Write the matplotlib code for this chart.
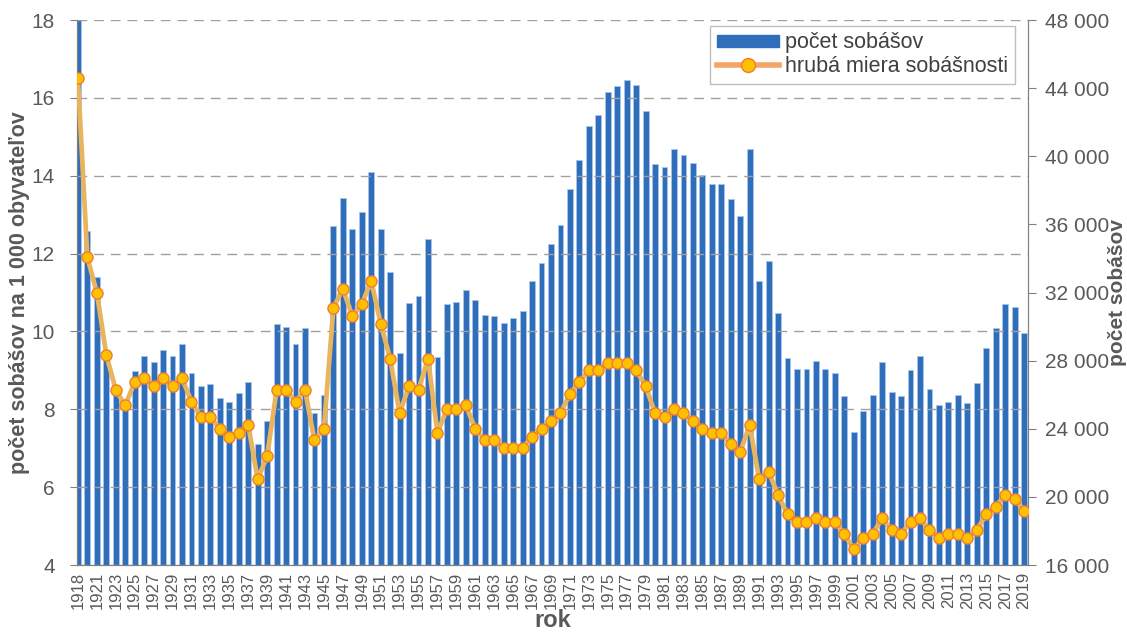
import numpy as np
import matplotlib.pyplot as plt
from matplotlib.lines import Line2D
from matplotlib.patches import Patch
from matplotlib.ticker import FuncFormatter

plt.rcParams['font.family'] = ['Liberation Sans', 'DejaVu Sans']

# 1919 is missing in the source series
years = [1918] + list(range(1920, 2020))

# number of marriages (right axis)
marriages = [
    48500, 35600, 32900, 28650, 26500, 25400, 27400, 28300, 27900, 28650,
    28300, 29000, 27300, 26500, 26600, 25800, 25550, 26100, 26750, 23100,
    24450, 30150, 30000, 29000, 29900, 24950, 26000, 35900, 37550, 35750,
    36700, 39050, 35700, 33200, 28450, 31400, 31800, 35150, 28200, 31300,
    31450, 32150, 31550, 30700, 30650, 30200, 30500, 30900, 32650, 33750,
    34850, 35950, 38100, 39800, 41800, 42400, 43800, 44150, 44450, 44200,
    42650, 39550, 39350, 40400, 40100, 39600, 38900, 38350, 38400, 37500,
    36500, 40450, 32700, 33850, 30800, 28150, 27500, 27500, 27950, 27500,
    27300, 25900, 23800, 25050, 26000, 27900, 26150, 25900, 27450, 28250,
    26350, 25400, 25600, 26000, 25500, 26700, 28750, 29900, 31300, 31150,
    29650,
]

# crude marriage rate per 1 000 inhabitants (left axis)
rate = [
    16.5, 11.9, 11.0, 9.4, 8.5, 8.1, 8.7, 8.8, 8.6, 8.8,
    8.6, 8.8, 8.2, 7.8, 7.8, 7.5, 7.3, 7.4, 7.6, 6.2,
    6.8, 8.5, 8.5, 8.2, 8.5, 7.2, 7.5, 10.6, 11.1, 10.4,
    10.7, 11.3, 10.2, 9.3, 7.9, 8.6, 8.5, 9.3, 7.4, 8.0,
    8.0, 8.1, 7.5, 7.2, 7.2, 7.0, 7.0, 7.0, 7.3, 7.5,
    7.7, 7.9, 8.4, 8.7, 9.0, 9.0, 9.2, 9.2, 9.2, 9.0,
    8.6, 7.9, 7.8, 8.0, 7.9, 7.7, 7.5, 7.4, 7.4, 7.1,
    6.9, 7.6, 6.2, 6.4, 5.8, 5.3, 5.1, 5.1, 5.2, 5.1,
    5.1, 4.8, 4.4, 4.7, 4.8, 5.2, 4.9, 4.8, 5.1, 5.2,
    4.9, 4.7, 4.8, 4.8, 4.7, 4.9, 5.3, 5.5, 5.8, 5.7,
    5.4,
]

bar_color = '#2F6EBA'
text_color = '#595959'
axis_color = '#808080'
tick_font = ['Liberation Sans Narrow', 'Liberation Sans', 'DejaVu Sans']

x = np.arange(len(years))

fig = plt.figure(figsize=(11.27, 6.35), dpi=100)
ax = fig.add_axes([0.0683, 0.1102, 0.8439, 0.8583])
ax2 = ax.twinx()

# bars on the right axis, drawn behind the line axis
ax2.bar(x, marriages, width=0.62, color=bar_color, edgecolor='#A9C5EA', linewidth=0.6, zorder=2)
ax.plot(x, rate, color='#E9B45E', lw=3.4, marker='o', ms=8, mfc='#FFC000', mec='#ED7D31', mew=1, zorder=3)
ax.set_zorder(ax2.get_zorder() + 1)
ax.patch.set_visible(False)

ax.set_xlim(-0.1, 100.42)
ax.set_ylim(4, 18)
ax2.set_ylim(16000, 48000)
ax.set_yticks(range(4, 19, 2))
ax2.set_yticks(range(16000, 48001, 4000))
ax2.yaxis.set_major_formatter(FuncFormatter(lambda v, p: f'{int(v):,}'.replace(',', ' ')))

ax.set_xticks(x[::2])
ax.set_xticklabels([str(y) for y in years[::2]], rotation=90)
ax.set_xticks(x[::6], minor=True)
ax.tick_params(axis='x', which='major', length=0, pad=5)
ax.tick_params(axis='x', which='minor', length=5, color=axis_color)

# grid: dashed horizontals over the bars, faint verticals behind them
ax.grid(axis='y', ls=(0, (7, 5)), color='#A0A0A0', lw=1)
ax2.set_axisbelow(True)
ax2.grid(axis='x', which='minor', color='#EBEBEB', lw=1)

for a in (ax, ax2):
    a.spines['top'].set_visible(False)
    for s in ('left', 'right', 'bottom'):
        a.spines[s].set_color(axis_color)
ax.tick_params(axis='y', length=5, pad=11, color=axis_color, labelcolor=text_color)
ax2.tick_params(axis='y', length=6, pad=6, color=axis_color, labelcolor=text_color)
ax.tick_params(axis='x', labelcolor=text_color)

for lbl in ax.get_yticklabels() + ax2.get_yticklabels():
    lbl.set_family(tick_font)
    lbl.set_fontsize(15)
for lbl in ax.get_xticklabels():
    lbl.set_family(tick_font)
    lbl.set_fontsize(12)

ax.set_ylabel('počet sobášov na 1 000 obyvateľov', fontsize=15.5, fontweight='bold', color=text_color, labelpad=1)
ax2.set_ylabel('počet sobášov', fontsize=15, fontweight='bold', color=text_color, labelpad=-1)
ax.set_xlabel('rok', fontsize=17, fontweight='bold', color=text_color, labelpad=0)

handles = [
    Patch(facecolor=bar_color, edgecolor=bar_color),
    Line2D([], [], color='#F4A466', lw=4, marker='o', ms=10, mfc='#FFC000', mec='#ED7D31', mew=1),
]
fig.legend(handles, ['počet sobášov', 'hrubá miera sobášnosti'], loc='upper right',
           bbox_to_anchor=(0.9006, 0.959), borderaxespad=0, fontsize=15.5, frameon=True,
           fancybox=False, edgecolor='#BFBFBF', framealpha=1, labelcolor='#404040',
           handlelength=2.9, handleheight=0.5, borderpad=0.3, labelspacing=0.12,
           handletextpad=0.3)

fig.savefig('out.png', dpi=100)
